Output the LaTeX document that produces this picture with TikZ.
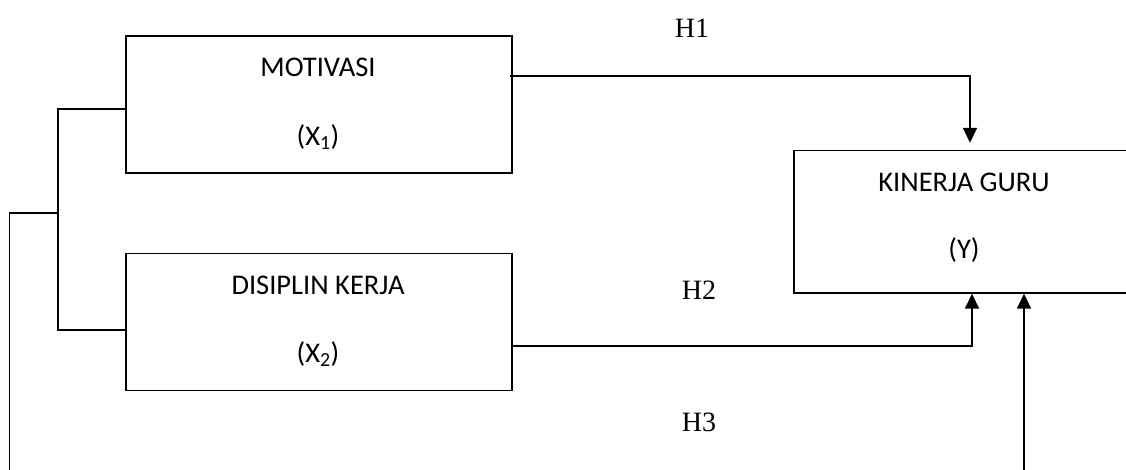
\documentclass[tikz,border=0pt]{standalone}
\usepackage{fontspec}
\setmainfont{Carlito}
\newfontfamily\hfont{Liberation Serif}
\usetikzlibrary{arrows.meta}
\begin{document}
\begin{tikzpicture}[x=1pt,y=1pt,
  line width=1.4pt,
  varbox/.style={draw, rectangle, inner sep=0pt},
  boxtext/.style={font=\fontsize{28.5}{34}\selectfont, inner sep=0pt},
  hyp/.style={font=\hfont\fontsize{28}{34}\selectfont, inner sep=0pt},
  link/.style={line width=1.7pt, -{Triangle[width=14pt,length=15pt]}}]
\useasboundingbox (0,0) rectangle (1126,470);

% variable boxes
\node[varbox, minimum width=386pt, minimum height=137pt] (mot) at (319,365.5) {};
\node[varbox, minimum width=386pt, minimum height=136.5pt] (dis) at (319,148) {};
\node[varbox, minimum width=340pt, minimum height=142.5pt] (kin) at (964,248.25) {};

% box labels
\node[boxtext] (motA) at (318,403) {MOTIVASI};
\node[boxtext] (motB) at (318,333) {(X\textsubscript{1})};
\node[boxtext] (disA) at (318,185) {DISIPLIN KERJA};
\node[boxtext] (disB) at (318,116) {(X\textsubscript{2})};
\node[boxtext] (kinA) at (964,288) {KINERJA GURU};
\node[boxtext] (kinB) at (964,220) {(Y)};

% hypothesis labels
\node[hyp] (h1) at (692,442) {H1};
\node[hyp] (h2) at (699,180) {H2};
\node[hyp] (h3) at (699,48) {H3};

% junction joining both predictors
\coordinate (jn) at (58,257);
\coordinate (jl) at (9.5,257);
\coordinate (jb) at (9.5,0);
\coordinate (yb) at (1024,0);

% H1: motivasi -> kinerja
\draw[link, shorten >=7pt] ([yshift=28.5pt,xshift=-3pt]mot.east) -| ([xshift=6pt]kin.north);
% H2: disiplin -> kinerja
\draw[link] ([yshift=-24pt]dis.east) -| ([xshift=8pt]kin.south);
% bracket on the left of both boxes
\draw ([yshift=-4.5pt]mot.west) -| (jn) |- ([yshift=-8pt]dis.west);
\draw (jn) -- (jl) -- (jb);
% H3: joint effect
\draw[link] (yb) -- (kin.south -| yb);
\end{tikzpicture}
\end{document}
